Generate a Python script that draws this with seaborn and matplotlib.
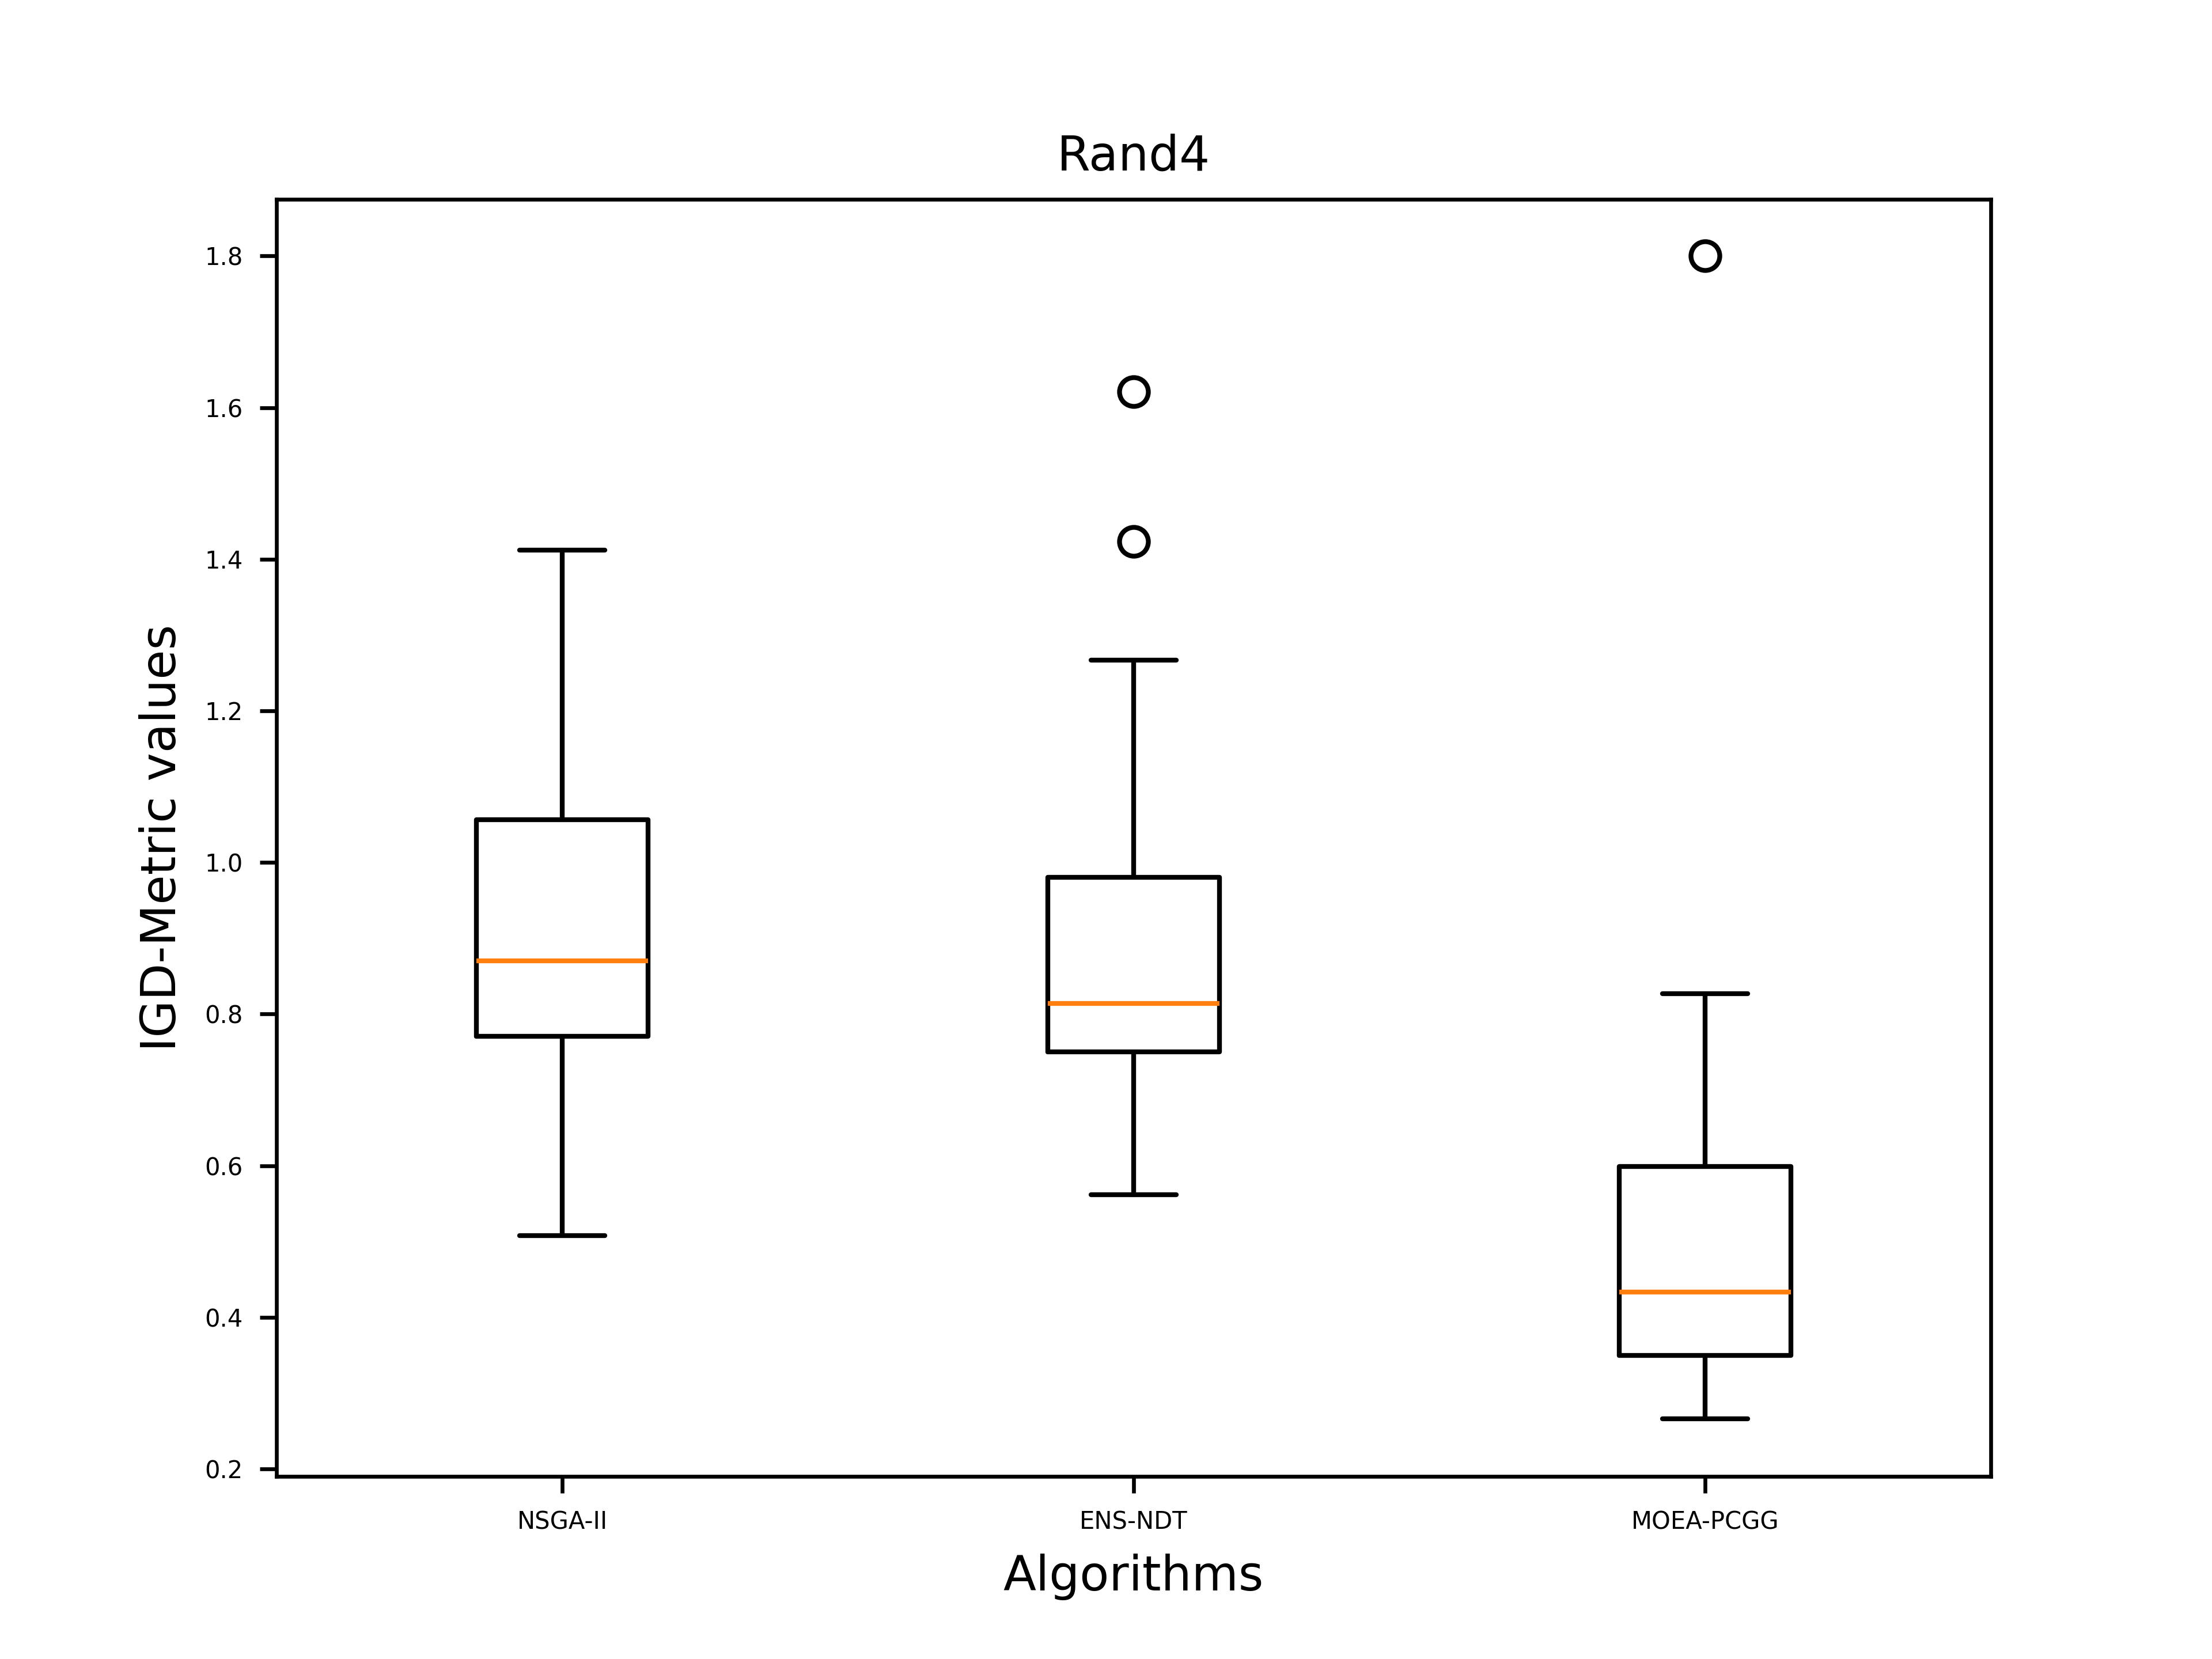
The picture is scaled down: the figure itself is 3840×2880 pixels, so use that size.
import matplotlib
matplotlib.use("Agg")
import matplotlib.pyplot as plt
import seaborn as sns

algorithms = ["NSGA-II", "ENS-NDT", "MOEA-PCGG"]
whislo = [0.508, 0.562, 0.266]
q1 = [0.771, 0.750, 0.350]
med = [0.870, 0.814, 0.433]
q3 = [1.056, 0.980, 0.599]
whishi = [1.412, 1.267, 0.827]
fliers = [[], [1.621, 1.423], [1.800]]

sns.set_style("ticks")
plt.rcParams['font.family'] = ['DejaVu Sans']
plt.rcParams['text.color'] = 'black'
plt.rcParams['axes.labelcolor'] = 'black'
plt.rcParams['xtick.color'] = 'black'
plt.rcParams['ytick.color'] = 'black'

fig, ax = plt.subplots(figsize=(6.4, 4.8), dpi=600)
stats = [dict(label=a, whislo=w0, q1=a1, med=m, q3=a3, whishi=w1, fliers=f)
         for a, w0, a1, m, a3, w1, f in zip(algorithms, whislo, q1, med, q3, whishi, fliers)]
ax.bxp(stats,
       boxprops=dict(color="black", linewidth=1),
       whiskerprops=dict(color="black", linewidth=1),
       capprops=dict(color="black", linewidth=1),
       medianprops=dict(color="#ff7f0e", linewidth=1),
       flierprops=dict(marker="o", markerfacecolor="none", markeredgecolor="black", markersize=6))
sns.despine(ax=ax, top=False, right=False)
for s in ax.spines.values():
    s.set_color("black")
    s.set_linewidth(0.8)
ax.set_title("Rand4", fontsize=10, color="black")
ax.set_xlabel("Algorithms", fontsize=10, color="black")
ax.set_ylabel("IGD-Metric values", fontsize=10, color="black")
ax.tick_params(axis="both", labelsize=5, direction="out", length=3.5, color="black", labelcolor="black")
ax.set_yticks([0.2, 0.4, 0.6, 0.8, 1.0, 1.2, 1.4, 1.6, 1.8])
ax.set_ylim(0.19, 1.875)
fig.savefig("out.png", dpi=600)
